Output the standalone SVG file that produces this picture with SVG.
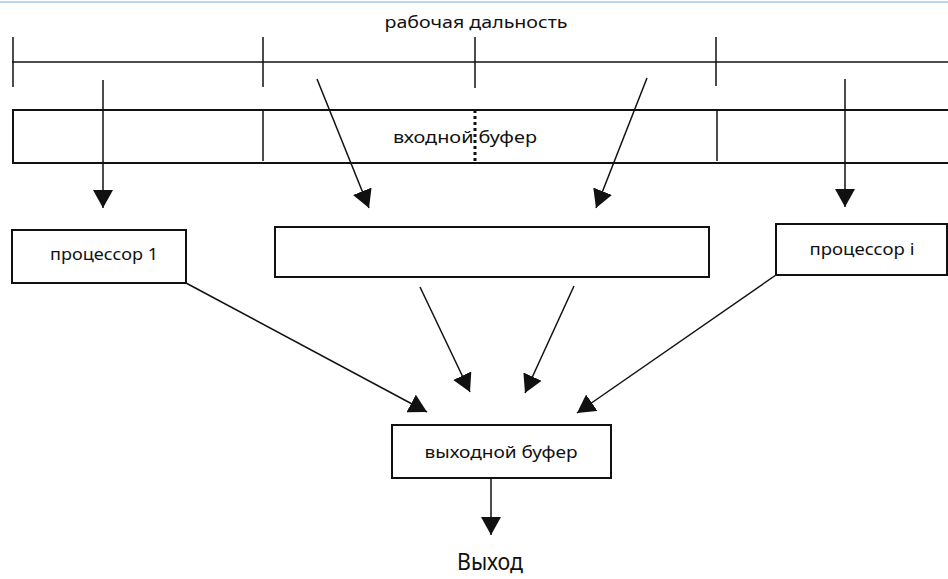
<svg xmlns="http://www.w3.org/2000/svg" width="948" height="579" viewBox="0 0 948 579">
<style>
.t{font-family:"Noto Sans","DejaVu Sans",sans-serif;fill:#111;}
.box{fill:#fff;stroke:#111;stroke-width:2;}
.ln{stroke:#111;stroke-width:1.5;fill:none;}
.ar{stroke:#111;stroke-width:1.5;fill:none;marker-end:url(#ah);}
</style>
<defs>
<marker id="ah" viewBox="0 0 18 20" refX="18" refY="10" markerWidth="18" markerHeight="20" markerUnits="userSpaceOnUse" orient="auto">
<path d="M0,0 L18,10 L0,20 Z" fill="#111"/>
</marker>
</defs>
<rect width="948" height="579" fill="#fff"/>
<line x1="0" y1="2" x2="948" y2="2" stroke="#bcd6ec" stroke-width="2"/>
<g id="range">
<text class="t" x="476" y="28" font-size="17" text-anchor="middle" textLength="183" lengthAdjust="spacingAndGlyphs">рабочая дальность</text>
<line class="ln" x1="12" y1="62" x2="948" y2="62" stroke-width="2"/>
<line class="ln" x1="13" y1="37" x2="13" y2="87"/>
<line class="ln" x1="263" y1="37" x2="263" y2="87"/>
<line class="ln" x1="475" y1="37" x2="475" y2="88"/>
<line class="ln" x1="716" y1="37" x2="716" y2="86"/>
</g>
<g id="input-buffer">
<path d="M948,110 H13 V163 H948" fill="none" stroke="#111" stroke-width="2"/>
<line class="ln" x1="263" y1="110" x2="263" y2="161" stroke-width="2"/>
<line class="ln" x1="717" y1="110" x2="717" y2="161" stroke-width="2"/>
<line x1="475" y1="110" x2="475" y2="163" stroke="#111" stroke-width="3" stroke-dasharray="3,3"/>
<text class="t" x="465" y="143" font-size="17" text-anchor="middle" textLength="144" lengthAdjust="spacingAndGlyphs">входной буфер</text>
</g>
<g id="processor-1">
<rect class="box" x="12" y="230" width="174" height="53"/>
<text class="t" x="104" y="260" font-size="16" text-anchor="middle" textLength="108" lengthAdjust="spacingAndGlyphs">процессор 1</text>
</g>
<g id="processor-middle">
<rect class="box" x="275" y="227" width="434" height="50"/>
</g>
<g id="processor-i">
<rect class="box" x="776" y="224" width="171" height="51"/>
<text class="t" x="862" y="255" font-size="16" text-anchor="middle" textLength="105" lengthAdjust="spacingAndGlyphs">процессор i</text>
</g>
<g id="output-buffer">
<rect class="box" x="392" y="425" width="219" height="53"/>
<text class="t" x="501" y="458" font-size="17" text-anchor="middle" textLength="153" lengthAdjust="spacingAndGlyphs">выходной буфер</text>
</g>
<g id="output">
<text class="t" x="490" y="570" font-size="23" text-anchor="middle" textLength="66" lengthAdjust="spacingAndGlyphs">Выход</text>
</g>
<g id="connectors">
<line class="ar" x1="103" y1="80" x2="103" y2="208"/>
<line class="ar" x1="845" y1="79" x2="845" y2="207"/>
<line class="ar" x1="317" y1="79" x2="369" y2="208"/>
<line class="ar" x1="647" y1="78" x2="596" y2="208"/>
<line class="ar" x1="186" y1="283" x2="427" y2="412"/>
<line class="ar" x1="420" y1="287" x2="470" y2="392"/>
<line class="ar" x1="574" y1="286" x2="525" y2="393"/>
<line class="ar" x1="776" y1="275" x2="577" y2="413"/>
<line class="ar" x1="491" y1="478" x2="491" y2="535"/>
</g>
</svg>
